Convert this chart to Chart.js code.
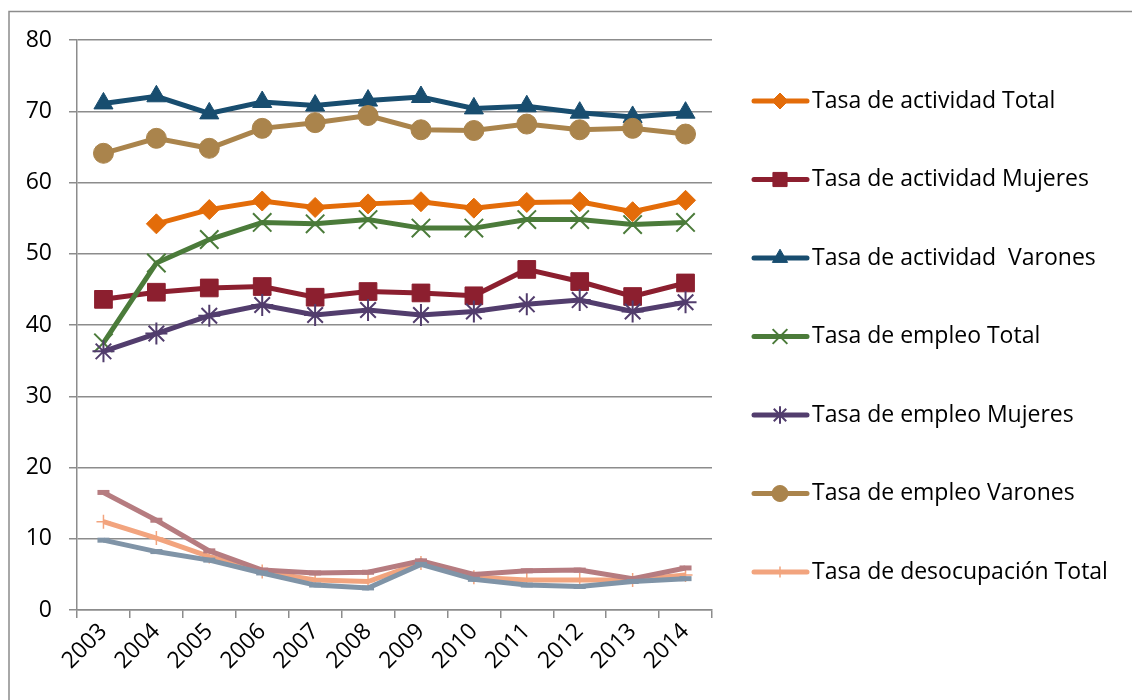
<!DOCTYPE html>
<html>
<head>
<meta charset="utf-8">
<script src="https://cdn.jsdelivr.net/npm/chart.js@4"></script>
<style>
  html, body { margin: 0; padding: 0; background: #fff; }
  #wrap { position: relative; width: 1132px; height: 700px; }
</style>
</head>
<body>
<div id="wrap"><canvas id="graficoTasas" width="1132" height="700"></canvas></div>
<script>
// Datos
const anios = ['2003', '2004', '2005', '2006', '2007', '2008', '2009', '2010', '2011', '2012', '2013', '2014'];

const actividadTotal    = [null, 54.2, 56.2, 57.4, 56.5, 57.0, 57.3, 56.4, 57.2, 57.3, 55.9, 57.5];
const actividadMujeres  = [43.6, 44.6, 45.2, 45.4, 43.9, 44.7, 44.5, 44.1, 47.8, 46.1, 44.0, 45.9];
const actividadVarones  = [71.1, 72.1, 69.7, 71.3, 70.8, 71.5, 72.0, 70.4, 70.7, 69.8, 69.2, 69.8];
const empleoTotal       = [37.5, 48.7, 52.0, 54.4, 54.2, 54.8, 53.6, 53.6, 54.8, 54.8, 54.1, 54.4];
const empleoMujeres     = [36.3, 38.8, 41.3, 42.8, 41.4, 42.1, 41.4, 41.9, 42.9, 43.5, 41.9, 43.2];
const empleoVarones     = [64.1, 66.2, 64.8, 67.6, 68.4, 69.4, 67.4, 67.3, 68.2, 67.4, 67.6, 66.8];
const desocupTotal      = [12.4, 10.1, 7.5, 5.4, 4.2, 4.0, 6.6, 4.6, 4.2, 4.2, 4.2, 4.9];
const desocupMujeres    = [16.5, 12.6, 8.3, 5.6, 5.2, 5.3, 6.9, 5.0, 5.5, 5.6, 4.4, 5.9];
const desocupVarones    = [9.8, 8.2, 7.0, 5.2, 3.5, 3.1, 6.4, 4.3, 3.5, 3.3, 4.0, 4.4];

const ticksY = [0, 10, 20, 30, 40, 50, 60, 70, 80];

const FUENTE = '"Open Sans", "Noto Sans", sans-serif';
const TAM_FUENTE = 23;

// Configuración de cada serie (nombre, datos, color, marcador)
const series = [
    { label: 'Tasa de actividad Total',    data: actividadTotal,   color: '#E36C09', estilo: 'rectRot',  radio: 10, borde: 1 },
    { label: 'Tasa de actividad Mujeres',  data: actividadMujeres, color: '#8C1F2F', estilo: 'rect',     radio: 12.5, borde: 1 },
    { label: 'Tasa de actividad  Varones', data: actividadVarones, color: '#184D6F', estilo: 'triangle', radio: 11, borde: 1 },
    { label: 'Tasa de empleo Total',       data: empleoTotal,      color: '#4B7B3A', estilo: 'crossRot', radio: 13, borde: 2 },
    { label: 'Tasa de empleo Mujeres',     data: empleoMujeres,    color: '#523D6D', estilo: 'star',     radio: 11, borde: 2 },
    { label: 'Tasa de empleo Varones',     data: empleoVarones,    color: '#AA844C', estilo: 'circle',   radio: 10, borde: 1 },
    { label: 'Tasa de desocupación Total', data: desocupTotal,     color: '#F2A47E', estilo: 'cross',    radio: 7,  borde: 1.5 },
    { label: 'Tasa de desocupación Mujeres', data: desocupMujeres, color: '#B67C80', estilo: 'line',     radio: 6,  borde: 5 },
    { label: 'Tasa de desocupación Varones', data: desocupVarones, color: '#8094A7', estilo: 'line',     radio: 6,  borde: 5 }
];

// Leyenda dibujada a mano: línea + marcador, sólo las 7 primeras series (como en el original)
const leyendaPlugin = {
    id: 'leyendaExcel',
    afterDraw(chart) {
        const ctx = chart.ctx;
        const area = chart.chartArea;
        const x0 = area.right + 40;
        const paso = 78.5;
        ctx.save();
        // marco del gráfico
        ctx.strokeStyle = '#8c8c8c';
        ctx.lineWidth = 1.5;
        ctx.beginPath();
        ctx.moveTo(9, 700);
        ctx.lineTo(9, 11.5);
        ctx.lineTo(1132, 11.5);
        ctx.stroke();

        chart.data.datasets.slice(0, 7).forEach((ds, i) => {
            const y = area.top + 61 + i * paso;
            ctx.strokeStyle = ds.borderColor;
            ctx.lineWidth = 5;
            ctx.lineCap = 'round';
            ctx.beginPath();
            ctx.moveTo(x0 + 2, y);
            ctx.lineTo(x0 + 55, y);
            ctx.stroke();
            ctx.fillStyle = ds.pointBackgroundColor;
            ctx.strokeStyle = ds.pointBorderColor;
            ctx.lineWidth = ds.pointBorderWidth;
            ctx.lineCap = 'butt';
            Chart.helpers.drawPoint(ctx, {
                pointStyle: ds.pointStyle,
                radius: ds.pointRadius * 0.8,
                rotation: 0,
                borderWidth: ds.pointBorderWidth
            }, x0 + 28, y);
            ctx.fillStyle = '#000';
            ctx.font = TAM_FUENTE + 'px ' + FUENTE;
            ctx.textBaseline = 'middle';
            ctx.textAlign = 'left';
            ctx.fillText(ds.label, x0 + 60, y);
        });
        ctx.restore();
    }
};

document.addEventListener('DOMContentLoaded', function() {
    const ctx = document.getElementById('graficoTasas');

    const datasets = series.map((s, i) => ({
        label: s.label,
        data: s.data,
        borderColor: s.color,
        backgroundColor: s.color,
        pointBackgroundColor: s.color,
        pointBorderColor: s.color,
        pointStyle: s.estilo,
        pointRadius: s.radio,
        pointBorderWidth: s.borde,
        borderWidth: 5,
        tension: 0,
        spanGaps: false,
        order: series.length - i // la última serie queda encima, como en Excel
    }));

    const config = {
        type: 'line',
        data: { labels: anios, datasets: datasets },
        options: {
            responsive: false,
            animation: false,
            layout: { padding: { left: 0, top: 40, right: 420, bottom: 0 } },
            plugins: {
                legend: { display: false },
                tooltip: { enabled: false },
                title: { display: false }
            },
            scales: {
                x: {
                    offset: true,
                    grid: {
                        offset: true,
                        drawOnChartArea: false,
                        drawTicks: true,
                        tickLength: 8,
                        color: '#8c8c8c',
                        lineWidth: 1.5
                    },
                    border: { color: '#8c8c8c', width: 1.5 },
                    ticks: {
                        color: '#000',
                        font: { family: FUENTE, size: TAM_FUENTE },
                        minRotation: 45,
                        maxRotation: 45,
                        padding: 0
                    },
                    afterFit(scale) { scale.height = 90; }
                },
                y: {
                    min: 0,
                    max: 80,
                    afterBuildTicks(scale) { scale.ticks = ticksY.map(v => ({ value: v })); },
                    grid: {
                        color: '#8c8c8c',
                        lineWidth: 1.5,
                        tickLength: 8
                    },
                    border: { color: '#8c8c8c', width: 1.5 },
                    ticks: {
                        color: '#000',
                        font: { family: FUENTE, size: TAM_FUENTE },
                        padding: 17
                    },
                    afterFit(scale) { scale.width = 77; }
                }
            }
        },
        plugins: [leyendaPlugin]
    };

    new Chart(ctx, config);
});
</script>
</body>
</html>
